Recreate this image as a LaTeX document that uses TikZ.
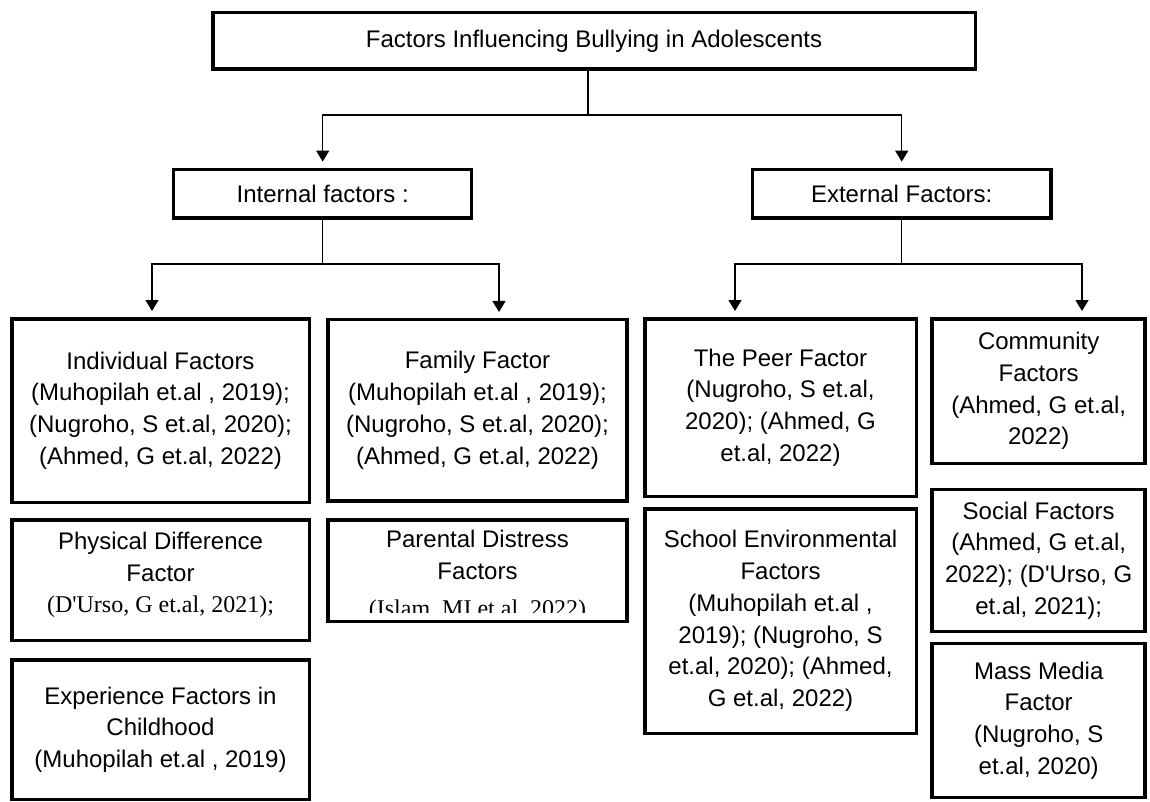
\documentclass[tikz,border=0pt]{standalone}
\usepackage{fontspec}
\setmainfont{Liberation Sans}
\newfontfamily\timesfont{Liberation Serif}
\usetikzlibrary{arrows.meta}

\begin{document}
\begin{tikzpicture}[x=0.5pt,y=-0.5pt,
    fbox/.style={draw,line width=1.75pt,align=center,inner sep=0pt,font=\fontsize{12pt}{15.85pt}\selectfont},
    lcol/.style={fbox,minimum width=148.75pt},
    mcol/.style={fbox,minimum width=149.3pt},
    pcol/.style={fbox,minimum width=135.75pt},
    rcol/.style={fbox,minimum width=106.5pt},
    bus/.style={line width=0.65pt},
    arr/.style={bus,-{Triangle[length=5.5pt,width=6.5pt]}}]
\useasboundingbox (0,0) rectangle (1150,802);
\node[fbox,minimum width=381.25pt,minimum height=28.4pt] (title) at (594,40.8) {Factors Influencing Bullying in Adolescents};
\node[fbox,minimum width=149pt,minimum height=24.4pt] (int) at (322.7,193.8) {Internal factors :};
\node[fbox,minimum width=149.1pt,minimum height=24.4pt] (ext) at (901.7,193.8) {External Factors:};
\node[lcol,minimum height=91.75pt] (ind) at (160.5,410.5) {Individual Factors\\(Muhopilah et.al , 2019);\\(Nugroho, S et.al, 2020);\\(Ahmed, G et.al, 2022)};
\node[lcol,minimum height=60.25pt,text depth=7.5pt] (phy) at (160.5,580) {Physical Difference\\Factor\\{\timesfont (D\textquotesingle Urso, G et.al, 2021);}};
\node[lcol,minimum height=69.75pt] (exp) at (160.5,729.5) {Experience Factors in\\Childhood\\(Muhopilah et.al , 2019)};
\node[mcol,minimum height=90.6pt] (fam) at (477.5,410.3) {Family Factor\\(Muhopilah et.al , 2019);\\(Nugroho, S et.al, 2020);\\(Ahmed, G et.al, 2022)};
\node[mcol,minimum height=50.75pt,text depth=0pt] (par) at (477.5,570.5) {Parental Distress\\Factors\\\strut};
\begin{scope}
  \clip (par.north west) rectangle ([yshift=5.5pt]par.south east);
  \node[anchor=base,font=\timesfont\fontsize{12pt}{15.85pt}\selectfont] (isl) at ([yshift=3.5pt]par.south) {(Islam, MI et.al, 2022)};
\end{scope}
\node[pcol,minimum height=88.75pt] (peer) at (780.5,407.5) {The Peer Factor\\(Nugroho, S et.al,\\2020); (Ahmed, G\\et.al, 2022)};
\node[pcol,minimum height=112.25pt] (sch) at (780.5,621) {School Environmental\\Factors\\(Muhopilah et.al ,\\2019); (Nugroho, S\\et.al, 2020); (Ahmed,\\G et.al, 2022)};
\node[rcol,minimum height=72.25pt] (com) at (1038.7,391) {Community\\Factors\\(Ahmed, G et.al,\\2022)};
\node[rcol,minimum height=70.9pt] (soc) at (1038.7,560.6) {Social Factors\\(Ahmed, G et.al,\\2022); (D\textquotesingle Urso, G\\et.al, 2021);};
\node[rcol,minimum height=76.9pt] (mm) at (1038.7,720.6) {Mass Media\\Factor\\(Nugroho, S\\et.al, 2020)};

\draw[bus] ([xshift=-3pt]title.south) -- ++(0,44) coordinate (tbus);
\draw[arr] (tbus) -| ([yshift=3pt]int.north);
\draw[arr] (tbus) -| ([yshift=3pt]ext.north);
\draw[bus] (int.south) -- ++(0,44) coordinate (ibus);
\draw[arr] (ibus) -| ([xshift=-4.25pt,yshift=3pt]ind.north);
\draw[arr] (ibus) -| ([xshift=10.75pt,yshift=3pt]fam.north);
\draw[bus] (ext.south) -- ++(0,44) coordinate (ebus);
\draw[arr] (ebus) -| ([xshift=-22.75pt,yshift=3pt]peer.north);
\draw[arr] (ebus) -| ([xshift=21.65pt,yshift=3pt]com.north);
\end{tikzpicture}
\end{document}
